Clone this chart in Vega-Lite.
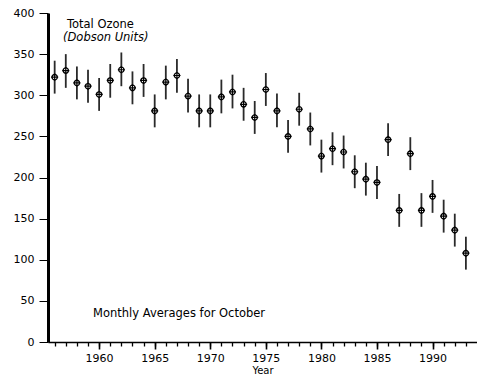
{
  "$schema": "https://vega.github.io/schema/vega-lite/v6.json",
  "width": 429,
  "height": 329,
  "autosize": "none",
  "padding": {"left": 48, "top": 13, "right": 0, "bottom": 36},
  "background": "white",
  "config": {
    "view": {"stroke": null},
    "axis": {"grid": false, "domainColor": "black", "tickColor": "black", "labelColor": "black", "titleColor": "black", "labelFont": "DejaVu Sans", "titleFont": "DejaVu Sans", "titleFontWeight": "normal"},
    "axisY": {"values": [0,50,100,150,200,250,300,350,400], "tickSize": 9, "tickWidth": 1, "domainWidth": 3, "labelPadding": 5, "labelFontSize": 11, "title": null}
  },
  "datasets": {
    "ozone": [
      {"year": 1956, "v": 322, "lo": 302, "hi": 342},
      {"year": 1957, "v": 330, "lo": 309, "hi": 350},
      {"year": 1958, "v": 315, "lo": 295, "hi": 335},
      {"year": 1959, "v": 311, "lo": 291, "hi": 331},
      {"year": 1960, "v": 301, "lo": 281, "hi": 321},
      {"year": 1961, "v": 318, "lo": 297, "hi": 338},
      {"year": 1962, "v": 331, "lo": 311, "hi": 352},
      {"year": 1963, "v": 309, "lo": 289, "hi": 329},
      {"year": 1964, "v": 318, "lo": 298, "hi": 338},
      {"year": 1965, "v": 281, "lo": 261, "hi": 301},
      {"year": 1966, "v": 316, "lo": 295, "hi": 336},
      {"year": 1967, "v": 324, "lo": 303, "hi": 344},
      {"year": 1968, "v": 299, "lo": 279, "hi": 320},
      {"year": 1969, "v": 281, "lo": 261, "hi": 301},
      {"year": 1970, "v": 281, "lo": 261, "hi": 301},
      {"year": 1971, "v": 298, "lo": 278, "hi": 319},
      {"year": 1972, "v": 304, "lo": 284, "hi": 325},
      {"year": 1973, "v": 289, "lo": 269, "hi": 309},
      {"year": 1974, "v": 273, "lo": 253, "hi": 293},
      {"year": 1975, "v": 307, "lo": 287, "hi": 327},
      {"year": 1976, "v": 281, "lo": 261, "hi": 302},
      {"year": 1977, "v": 250, "lo": 230, "hi": 270},
      {"year": 1978, "v": 283, "lo": 263, "hi": 303},
      {"year": 1979, "v": 259, "lo": 239, "hi": 279},
      {"year": 1980, "v": 226, "lo": 206, "hi": 246},
      {"year": 1981, "v": 235, "lo": 215, "hi": 255},
      {"year": 1982, "v": 231, "lo": 211, "hi": 251},
      {"year": 1983, "v": 207, "lo": 187, "hi": 227},
      {"year": 1984, "v": 198, "lo": 178, "hi": 218},
      {"year": 1985, "v": 194, "lo": 174, "hi": 214},
      {"year": 1986, "v": 246, "lo": 226, "hi": 266},
      {"year": 1987, "v": 160, "lo": 140, "hi": 180},
      {"year": 1988, "v": 229, "lo": 209, "hi": 249},
      {"year": 1989, "v": 160, "lo": 140, "hi": 181},
      {"year": 1990, "v": 177, "lo": 157, "hi": 197},
      {"year": 1991, "v": 153, "lo": 133, "hi": 173},
      {"year": 1992, "v": 136, "lo": 116, "hi": 156},
      {"year": 1993, "v": 108, "lo": 88, "hi": 128}
    ],
    "notes": [
      {"x": 1957.1, "y": 386, "label": "Total Ozone", "kind": "plain"},
      {"x": 1956.75, "y": 369, "label": "(Dobson Units)", "kind": "italic"},
      {"x": 1959.45, "y": 34, "label": "Monthly Averages for October", "kind": "plain"}
    ]
  },
  "layer": [
    {
      "data": {"name": "ozone"},
      "mark": {"type": "rule", "color": "#2a2a2a", "strokeWidth": 1.8},
      "encoding": {
        "x": {"field": "year", "type": "quantitative", "scale": {"domain": [1955.4, 1994], "nice": false, "zero": false},
          "axis": {"orient": "bottom", "values": [1956,1957,1958,1959,1960,1961,1962,1963,1964,1965,1966,1967,1968,1969,1970,1971,1972,1973,1974,1975,1976,1977,1978,1979,1980,1981,1982,1983,1984,1985,1986,1987,1988,1989,1990,1991,1992,1993], "labels": false, "tickSize": 4, "tickWidth": 1.3, "domainWidth": 1.6, "title": null}},
        "y": {"field": "lo", "type": "quantitative", "scale": {"domain": [0, 400], "nice": false}, "title": null},
        "y2": {"field": "hi"}
      }
    },
    {
      "data": {"name": "ozone"},
      "mark": {"type": "point", "shape": "circle", "filled": true, "fill": "white", "stroke": "black", "strokeWidth": 1.3, "size": 28, "opacity": 1},
      "encoding": {
        "x": {"field": "year", "type": "quantitative",
          "axis": {"orient": "bottom", "values": [1960,1965,1970,1975,1980,1985,1990], "format": "d", "tickSize": 7, "tickWidth": 1.6, "domain": false, "labelPadding": 3, "labelFontSize": 11, "title": "Year", "titleFontSize": 10, "titlePadding": 2}},
        "y": {"field": "v", "type": "quantitative", "title": null}
      }
    },
    {
      "data": {"name": "ozone"},
      "mark": {"type": "point", "shape": "M-1,0H1M0,-1V1", "filled": false, "stroke": "black", "strokeWidth": 1.2, "size": 50, "opacity": 1},
      "encoding": {
        "x": {"field": "year", "type": "quantitative", "axis": null},
        "y": {"field": "v", "type": "quantitative", "title": null}
      }
    },
    {
      "data": {"name": "notes"},
      "transform": [{"filter": "datum.kind === 'plain'"}],
      "mark": {"type": "text", "align": "left", "baseline": "middle", "font": "DejaVu Sans", "fontSize": 11.5, "color": "black"},
      "encoding": {
        "x": {"field": "x", "type": "quantitative", "axis": null},
        "y": {"field": "y", "type": "quantitative", "title": null},
        "text": {"field": "label"}
      }
    },
    {
      "data": {"name": "notes"},
      "transform": [{"filter": "datum.kind === 'italic'"}],
      "mark": {"type": "text", "align": "left", "baseline": "middle", "font": "DejaVu Sans", "fontSize": 11.5, "fontStyle": "italic", "color": "black"},
      "encoding": {
        "x": {"field": "x", "type": "quantitative", "axis": null},
        "y": {"field": "y", "type": "quantitative", "title": null},
        "text": {"field": "label"}
      }
    }
  ],
  "resolve": {"axis": {"x": "independent"}}
}
